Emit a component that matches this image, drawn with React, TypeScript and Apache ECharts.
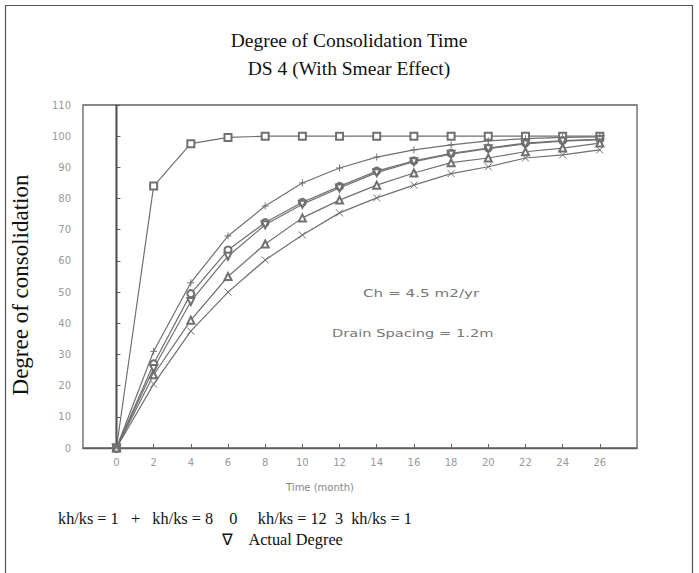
import React, { useEffect, useRef } from "react";
import * as echarts from "echarts";

const months = [0, 2, 4, 6, 8, 10, 12, 14, 16, 18, 20, 22, 24, 26];
const tickValues = [0, 2, 4, 6, 8, 10, 12, 14, 16, 18, 20, 22, 24, 26];
const squareValues = [0, 84, 97.6, 99.6, 100, 100, 100, 100, 100, 100, 100, 100, 100, 100];
const plusValues = [0, 31, 53, 68, 77.6, 85, 89.8, 93.3, 95.6, 97.2, 98.5, 99.2, 99.6, 99.8];
const circleValues = [0, 27, 49.5, 63.5, 72.3, 78.8, 83.9, 88.8, 92.1, 94.5, 96.2, 97.8, 98.6, 99];
const actualValues = [0, 25.5, 47, 61.5, 71.6, 78.2, 83.4, 88.3, 91.8, 94.2, 96, 97.5, 98.4, 98.9];
const triangleValues = [0, 23.5, 41, 55, 65.4, 73.8, 79.5, 84.3, 88.2, 91.5, 93, 95, 96.2, 97.8];
const crossValues = [0, 20.5, 37.5, 50, 60.3, 68.3, 75.4, 80.2, 84.3, 88, 90.2, 93, 94, 95.6];
const zeroLine = [[0, 0], [0, 110]];

const LINE = "#707070";
const AXIS = "#606060";
const LABEL = "#999";

const pair = (vals: number[]) => months.map((m, i) => [m, vals[i]]);

function mkSeries(name: string, vals: number[], symbol: string, size: number, rotate = 0) {
  return {
    name,
    type: "line",
    data: pair(vals),
    symbol,
    symbolSize: size,
    symbolRotate: rotate,
    showSymbol: true,
    lineStyle: { color: LINE, width: 1.2 },
    itemStyle: { color: LINE, borderColor: LINE, borderWidth: 1 },
    z: 3,
  };
}

export default function App() {
  const ref = useRef<HTMLDivElement>(null);
  useEffect(() => {
    if (!ref.current) return;
    const chart = echarts.init(ref.current, undefined, { renderer: "svg" });
    const plusPath = "path://M5,0L5,10M0,5L10,5";
    const crossPath = "path://M0,0L10,10M10,0L0,10";
    chart.setOption({
      animation: false,
      backgroundColor: "#fff",
      grid: {
        left: 83,
        top: 105,
        right: 62,
        bottom: 125,
        show: true,
        borderColor: AXIS,
        borderWidth: 1.3,
        backgroundColor: "transparent",
      },
      xAxis: {
        type: "value",
        min: -1.8,
        max: 28,
        axisLine: { show: true, onZero: false, lineStyle: { color: AXIS, width: 1.3 } },
        axisTick: { show: true, inside: true, length: 4, customValues: tickValues, lineStyle: { color: AXIS } },
        axisLabel: {
          show: true,
          customValues: tickValues,
          color: LABEL,
          fontFamily: "DejaVu Sans",
          fontSize: 10,
          margin: 9,
        },
        splitLine: { show: false },
      },
      yAxis: {
        type: "value",
        min: 0,
        max: 110,
        interval: 10,
        axisLine: { show: true, lineStyle: { color: AXIS, width: 1.3 } },
        axisTick: { show: true, inside: true, length: 4, lineStyle: { color: AXIS } },
        axisLabel: {
          color: LABEL,
          fontFamily: "DejaVu Sans",
          fontSize: 10,
          margin: 12,
        },
        splitLine: { show: false },
      },
      series: [
        {
          name: "zero",
          type: "line",
          data: zeroLine,
          symbol: "none",
          lineStyle: { color: "#555", width: 2 },
          z: 2,
        },
        mkSeries("kh/ks = 1", squareValues, "emptyRect", 7),
        mkSeries("kh/ks = 1 (b)", plusValues, plusPath, 7),
        mkSeries("kh/ks = 8", circleValues, "emptyCircle", 7),
        mkSeries("Actual Degree", actualValues, "emptyTriangle", 7, 180),
        mkSeries("kh/ks = 12", triangleValues, "emptyTriangle", 7),
        mkSeries("kh/ks = 1 (c)", crossValues, crossPath, 7),
      ],
      graphic: [
        {
          type: "rect",
          shape: { x: 5.5, y: 5.5, width: 687, height: 575 },
          style: { fill: "none", stroke: "#555", lineWidth: 1.2 },
          silent: true,
        },
        {
          type: "text",
          x: 349,
          y: 40,
          style: {
            text: "Degree of Consolidation Time",
            font: '19.5px "Liberation Serif"',
            fill: "#111",
            textAlign: "center",
            textVerticalAlign: "middle",
          },
        },
        {
          type: "text",
          x: 349,
          y: 68,
          style: {
            text: "DS 4 (With Smear Effect)",
            font: '19.5px "Liberation Serif"',
            fill: "#111",
            textAlign: "center",
            textVerticalAlign: "middle",
          },
        },
        {
          type: "text",
          x: 20,
          y: 285,
          rotation: Math.PI / 2,
          style: {
            text: "Degree of consolidation",
            font: '23px "Liberation Serif"',
            fill: "#111",
            textAlign: "center",
            textVerticalAlign: "middle",
          },
        },
        {
          type: "text",
          x: 320,
          y: 487,
          style: {
            text: "Time (month)",
            font: '10px "DejaVu Sans"',
            fill: "#888",
            textAlign: "center",
            textVerticalAlign: "middle",
          },
        },
        {
          type: "text",
          x: 363,
          y: 293,
          scaleX: 1.38,
          style: {
            text: "Ch = 4.5 m2/yr",
            font: '11px "DejaVu Sans"',
            fill: "#777",
            textAlign: "left",
            textVerticalAlign: "middle",
          },
        },
        {
          type: "text",
          x: 332,
          y: 333,
          scaleX: 1.33,
          style: {
            text: "Drain Spacing = 1.2m",
            font: '11px "DejaVu Sans"',
            fill: "#777",
            textAlign: "left",
            textVerticalAlign: "middle",
          },
        },
        {
          type: "text",
          x: 58,
          y: 518,
          style: {
            text: "kh/ks = 1   +   kh/ks = 8    0     kh/ks = 12  3  kh/ks = 1",
            font: '16.3px "Liberation Serif"',
            fill: "#111",
            textAlign: "left",
            textVerticalAlign: "middle",
          },
        },
        {
          type: "text",
          x: 222,
          y: 539,
          style: {
            text: "\u2207    Actual Degree",
            font: '16.3px "Liberation Serif"',
            fill: "#111",
            textAlign: "left",
            textVerticalAlign: "middle",
          },
        },
      ],
    });
    return () => chart.dispose();
  }, []);
  return (
    <div
      ref={ref}
      style={{ position: "fixed", left: 0, top: 0, width: 699, height: 573 }}
    />
  );
}
